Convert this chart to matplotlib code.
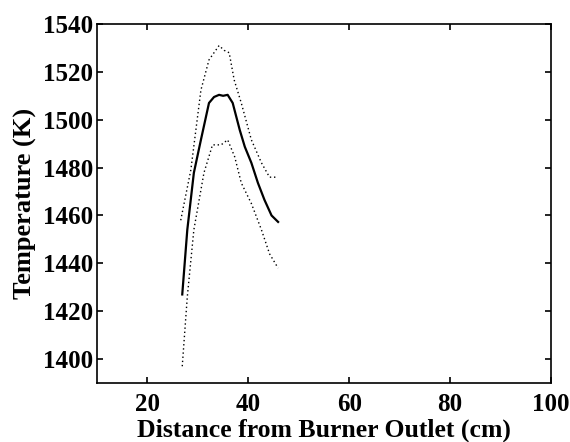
import matplotlib
matplotlib.use('Agg')
import matplotlib.pyplot as plt

# distance from burner outlet (cm) and temperature (K)
x_mean = [26.9, 27.9, 29.2, 30.6, 32.2, 33.2, 34.2, 35.0, 35.9, 36.9, 38.3, 39.3, 40.6, 41.9, 43.2, 44.6, 45.9]
t_mean = [1427, 1454, 1477.8, 1491.6, 1507, 1509.5, 1510.4, 1510, 1510.4, 1507, 1495.7, 1488.7, 1482, 1473.6, 1466.5, 1460, 1457.3]

x_upper = [26.6, 28.6, 30.6, 32.2, 33.2, 34.2, 35.2, 36.2, 37.2, 38.6, 40.6, 42.6, 44.2, 45.6]
t_upper = [1458, 1479, 1512.4, 1525, 1528, 1531, 1529, 1528, 1516.6, 1507, 1491.6, 1482, 1476, 1476]

x_lower = [26.9, 27.9, 29.2, 31.2, 32.9, 34.6, 35.9, 37.3, 38.6, 40.6, 42.6, 44.2, 45.9]
t_lower = [1397, 1426, 1454, 1477.8, 1489.5, 1489.5, 1491.6, 1484.5, 1473.6, 1465, 1454, 1444, 1438]

plt.rcParams['font.family'] = ['Liberation Serif', 'DejaVu Serif']
plt.rcParams['font.weight'] = 'bold'

fig = plt.figure(figsize=(5.7, 4.42), dpi=100)
ax = fig.add_axes([97 / 570, 1 - 383 / 442, (551 - 97) / 570, (383 - 24) / 442])

ax.plot(x_mean, t_mean, color='black', lw=1.6)
ax.plot(x_upper, t_upper, color='black', lw=1.0, ls=(0, (1, 2)))
ax.plot(x_lower, t_lower, color='black', lw=1.0, ls=(0, (1, 2)))

ax.set_xlim(10, 100)
ax.set_ylim(1390, 1540)
ax.set_xticks([20, 40, 60, 80, 100])
ax.set_yticks(range(1400, 1541, 20))
ax.tick_params(direction='in', top=True, right=True, labelsize=18, width=1.2, length=4, pad=3)
ax.tick_params(axis='x', pad=7)
for s in ax.spines.values():
    s.set_linewidth(1.2)

ax.set_xlabel('Distance from Burner Outlet (cm)', fontsize=18.5, fontweight='bold', labelpad=2)
ax.set_ylabel('Temperature (K)', fontsize=19, fontweight='bold', labelpad=4)

fig.savefig('out.png', dpi=100)
